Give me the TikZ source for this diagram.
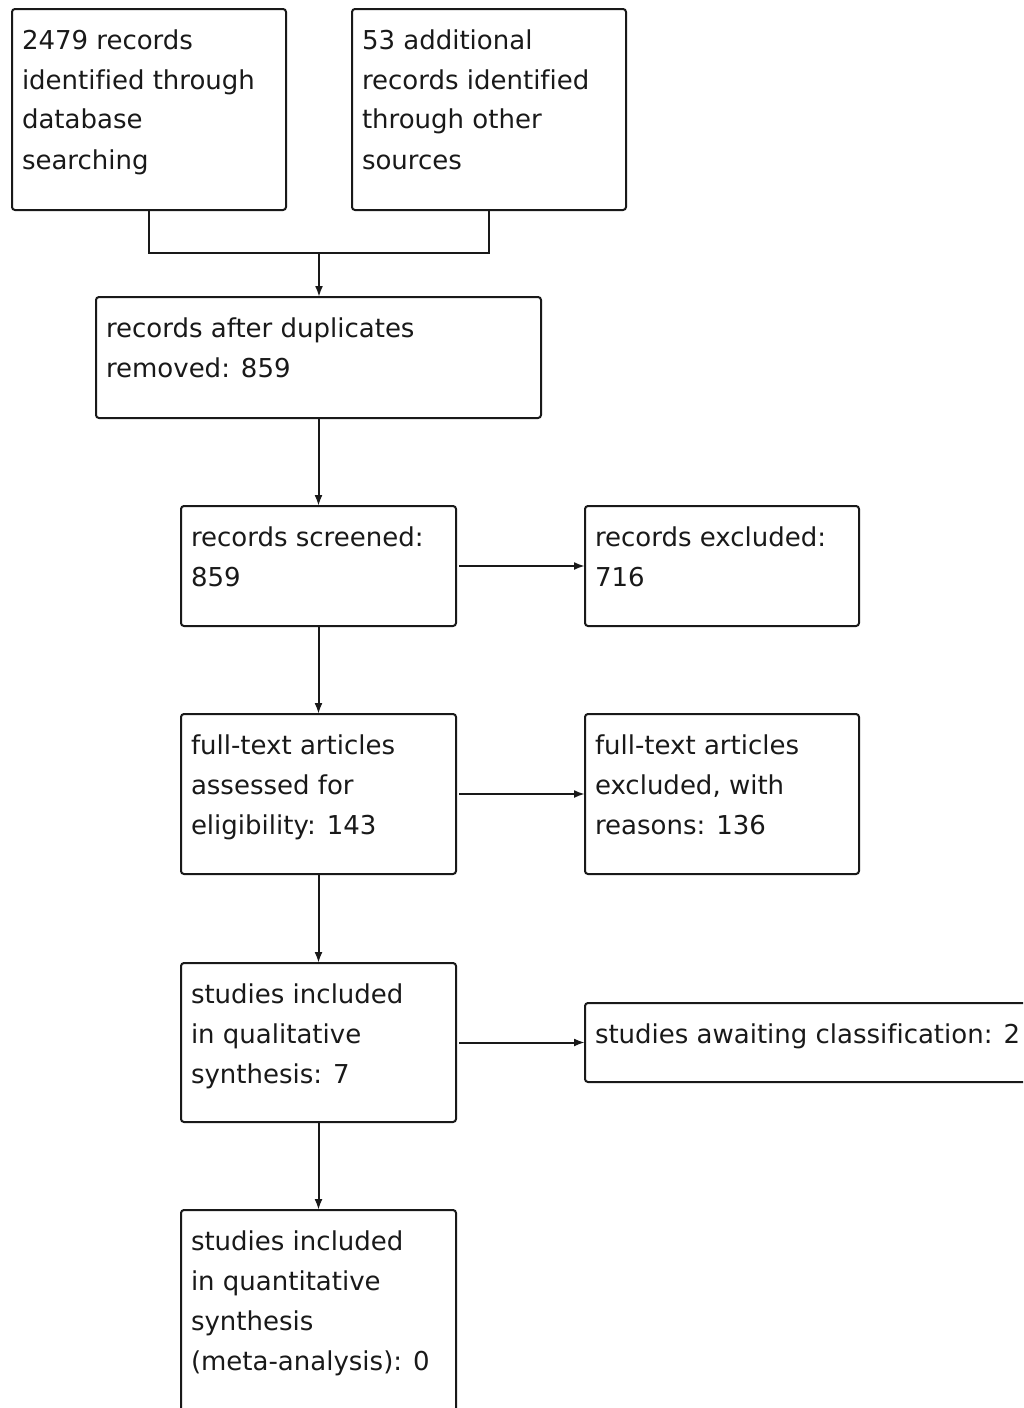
\documentclass[tikz,border=0pt]{standalone}
\usepackage{fontspec}
\setmainfont[Ligatures=NoCommon]{DejaVu Sans}
\usetikzlibrary{arrows.meta}

% text of a box: height and width of the box, then the lines
\newcommand{\stagetext}[3]{\parbox[t][\dimexpr#1pt-24pt\relax][t]{\dimexpr#2pt-20pt\relax}{\raggedright\strut #3}}

\tikzset{
  stage/.style={draw, rounded corners=3pt, anchor=north west, outer sep=0pt,
    inner xsep=10pt, inner ysep=12pt, font=\fontsize{26}{40}\selectfont},
  flow/.style={-{Latex[length=11pt,width=8pt]}},
  side/.style={flow, shorten <=3pt}
}

\begin{document}
\begin{tikzpicture}[x=1pt, y=-1pt, line width=2pt, color=black!90]
    \clip (0,0) rectangle (1023,1408);

    % draw boxes
    \node[stage] (db) at (12,9) {\stagetext{201}{274}{2479 records\\identified through\\database\\searching}};
    \node[stage] (other) at (352,9) {\stagetext{201}{274}{53 additional\\records identified\\through other\\sources}};
    \node[stage] (dedup) at (96,297) {\stagetext{121}{445}{records after duplicates\\removed: 859}};

    \node[stage] (screened) at (181,506) {\stagetext{120}{275}{records screened:\\859}};
    \node[stage] (excluded) at (585,506) {\stagetext{120}{274}{records excluded:\\716}};

    \node[stage] (fulltext) at (181,714) {\stagetext{160}{275}{full-text articles\\assessed for\\eligibility: 143}};
    \node[stage] (ftexcl) at (585,714) {\stagetext{160}{274}{full-text articles\\excluded, with\\reasons: 136}};

    \node[stage] (qual) at (181,963) {\stagetext{159}{275}{studies included\\in qualitative\\synthesis: 7}};
    \node[stage] (awaiting) at (585,1003) {\stagetext{79}{445}{studies awaiting classification: 2}};

    \node[stage] (quant) at (181,1210) {\stagetext{201}{275}{studies included\\in quantitative\\synthesis\\(meta-analysis): 0}};

    % draw connectors
    \coordinate (merge) at (319,253);
    \draw (db.south) |- (merge) -| (other.south);
    \draw[flow] (merge) -- (merge |- dedup.north);

    \draw[flow] (dedup.south) -- (screened.north);
    \draw[side] (screened.east) -- (excluded.west);
    \draw[flow] (screened.south) -- (fulltext.north);
    \draw[side] (fulltext.east) -- (ftexcl.west);
    \draw[flow] (fulltext.south) -- (qual.north);
    \draw[side] (qual.east) -- (awaiting.west);
    \draw[flow] (qual.south) -- (quant.north);
\end{tikzpicture}
\end{document}
